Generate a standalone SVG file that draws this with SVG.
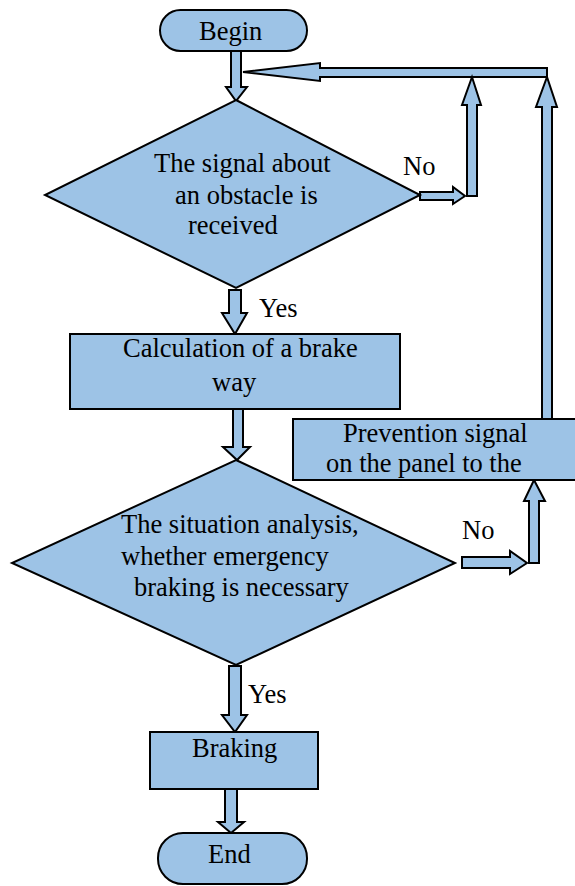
<svg xmlns="http://www.w3.org/2000/svg" width="575" height="886" viewBox="0 0 575 886">
<style>
.s{fill:#9dc3e6;stroke:#000;stroke-width:2;stroke-linejoin:miter}
text{font-family:'Liberation Serif','Times New Roman',Times,serif;font-size:26.5px;fill:#000}
</style>
<rect width="575" height="886" fill="#fff"/>
<g id="connectors">
<polygon class="s" points="231,51 241,51 241,87 247,87 236,101 226,87 231,87"/>
<polygon class="s" points="547,68 320,68 320,63 243,72 320,81 320,77 547,77"/>
<polygon class="s" points="420,192 453,192 453,187 465,196 453,204 453,200 420,200"/>
<polygon class="s" points="467,196 467,105 462,105 472,77 481,105 477,105 477,196"/>
<polygon class="s" points="542,419 542,107 536,107 547,77 557,107 552,107 552,419"/>
<polygon class="s" points="229,290 241,290 241,313 247,313 235,334 222,313 229,313"/>
<polygon class="s" points="233,409 243,409 243,447 250,447 237,460 223,447 233,447"/>
<polygon class="s" points="462,557 510,557 510,551 527,563 510,574 510,568 462,568"/>
<polygon class="s" points="529,563 529,501 524,501 534,480 545,501 539,501 539,563"/>
<polygon class="s" points="229,666 241,666 241,715 247,715 235,732 222,715 229,715"/>
<polygon class="s" points="225,789 237,789 237,822 244,822 231,833 218,822 225,822"/>
<text x="403" y="175">No</text>
<text x="259" y="317">Yes</text>
<text x="462" y="539">No</text>
<text x="248" y="703">Yes</text>
</g>
<g id="begin">
<rect class="s" x="160" y="10" width="147" height="41" rx="20.5"/>
<text x="199" y="40">Begin</text>
</g>
<g id="signal">
<polygon class="s" points="236,100 420,195 236,288 45,195"/>
<text x="154" y="172">The signal about</text>
<text x="175" y="204">an obstacle is</text>
<text x="188" y="234">received</text>
</g>
<g id="calculation">
<rect class="s" x="70" y="334" width="330" height="75"/>
<text x="123" y="357">Calculation of a brake</text>
<text x="212" y="391">way</text>
</g>
<g id="prevention">
<rect class="s" x="293" y="419" width="290" height="61"/>
<text x="343" y="442">Prevention signal</text>
<text x="326" y="472">on the panel to the</text>
</g>
<g id="analysis">
<polygon class="s" points="236,460 455,563 236,665 12,563"/>
<text x="121" y="533">The situation analysis,</text>
<text x="121" y="565">whether emergency</text>
<text x="134" y="596">braking is necessary</text>
</g>
<g id="braking">
<rect class="s" x="150" y="732" width="168" height="57"/>
<text x="192" y="757">Braking</text>
</g>
<g id="end">
<rect class="s" x="158" y="833" width="149" height="51" rx="25"/>
<text x="208" y="863">End</text>
</g>
</svg>
